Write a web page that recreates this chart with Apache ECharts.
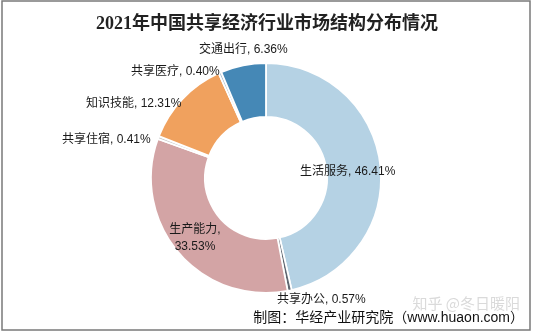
<!DOCTYPE html>
<html>
<head>
<meta charset="utf-8">
<script src="https://cdn.jsdelivr.net/npm/echarts@6/dist/echarts.min.js"></script>
<style>
  html, body { margin: 0; padding: 0; background: #fff; }
  #chart { width: 534px; height: 332px; }
</style>
</head>
<body>
<div id="chart"></div>
<script>
// 2021年中国共享经济行业市场结构分布（%）
const categories = ['生活服务', '共享办公', '生产能力', '共享住宿', '知识技能', '共享医疗', '交通出行'];
const shares = [46.41, 0.57, 33.53, 0.41, 12.31, 0.40, 6.36];
const colors = ['#b5d2e4', '#5e6670', '#d3a4a5', '#c9c9c9', '#f0a15e', '#a9bccb', '#4588b6'];
// the two largest segments carry their label on the ring
const insideLabels = ['生活服务', '生产能力'];

// where each label sits: anchor x, vertical middle, and text alignment
const labelSpots = {
  '生活服务': [300, 172, 'left'],
  '共享办公': [277, 300, 'left'],
  '生产能力': [195, 238, 'center'],
  '共享住宿': [62, 140, 'left'],
  '知识技能': [86, 104, 'left'],
  '共享医疗': [131, 72, 'left'],
  '交通出行': [199, 50, 'left']
};

const labelFont = '"Liberation Sans", Arial, "Noto Sans CJK SC", sans-serif';

const chart = echarts.init(document.getElementById('chart'), null, { renderer: 'canvas' });

const data = categories.map((name, i) => {
  const item = { name: name, value: shares[i], itemStyle: { color: colors[i] } };
  if (insideLabels.includes(name)) {
    item.label = { position: 'inside' };
  }
  return item;
});

chart.setOption({
  backgroundColor: '#fff',
  animation: false,
  title: {
    text: '2021年中国共享经济行业市场结构分布情况',
    left: 'center',
    top: 10,
    textStyle: {
      fontFamily: '"Liberation Serif", "Noto Sans CJK SC", serif',
      fontWeight: 'bold',
      fontSize: 18,
      color: '#222'
    }
  },
  graphic: [
    {
      type: 'rect',
      shape: { x: 2, y: 1, width: 528, height: 329 },
      style: { fill: 'none', stroke: '#7a7a7a', lineWidth: 1.5 },
      silent: true
    },
    {
      type: 'text',
      right: 10,
      bottom: 7,
      style: {
        text: '制图：华经产业研究院（www.huaon.com）',
        font: '14px ' + labelFont,
        fill: '#111'
      }
    },
    {
      type: 'text',
      right: 14,
      bottom: 21,
      style: {
        text: '知乎 @冬日暖阳',
        font: '15px "Noto Sans CJK SC", sans-serif',
        fill: '#dadada'
      },
      z: -1
    }
  ],
  series: [{
    type: 'pie',
    center: [266, 178],
    radius: [61, 115],
    startAngle: 90,
    clockwise: true,
    avoidLabelOverlap: false,
    itemStyle: { borderColor: '#fff', borderWidth: 1.8 },
    label: {
      show: true,
      position: 'outside',
      formatter: p => p.name === '生产能力'
        ? p.name + ',\n' + p.value.toFixed(2) + '%'
        : p.name + ', ' + p.value.toFixed(2) + '%',
      fontFamily: labelFont,
      fontSize: 12,
      color: '#1a1a1a',
      lineHeight: 17
    },
    labelLine: { show: false, length: 6, length2: 4 },
    labelLayout: params => {
      const spot = labelSpots[categories[params.dataIndex]];
      return {
        x: spot[0],
        y: spot[1],
        align: spot[2],
        verticalAlign: 'middle',
        hideOverlap: false
      };
    },
    data: data
  }]
});
</script>
</body>
</html>
